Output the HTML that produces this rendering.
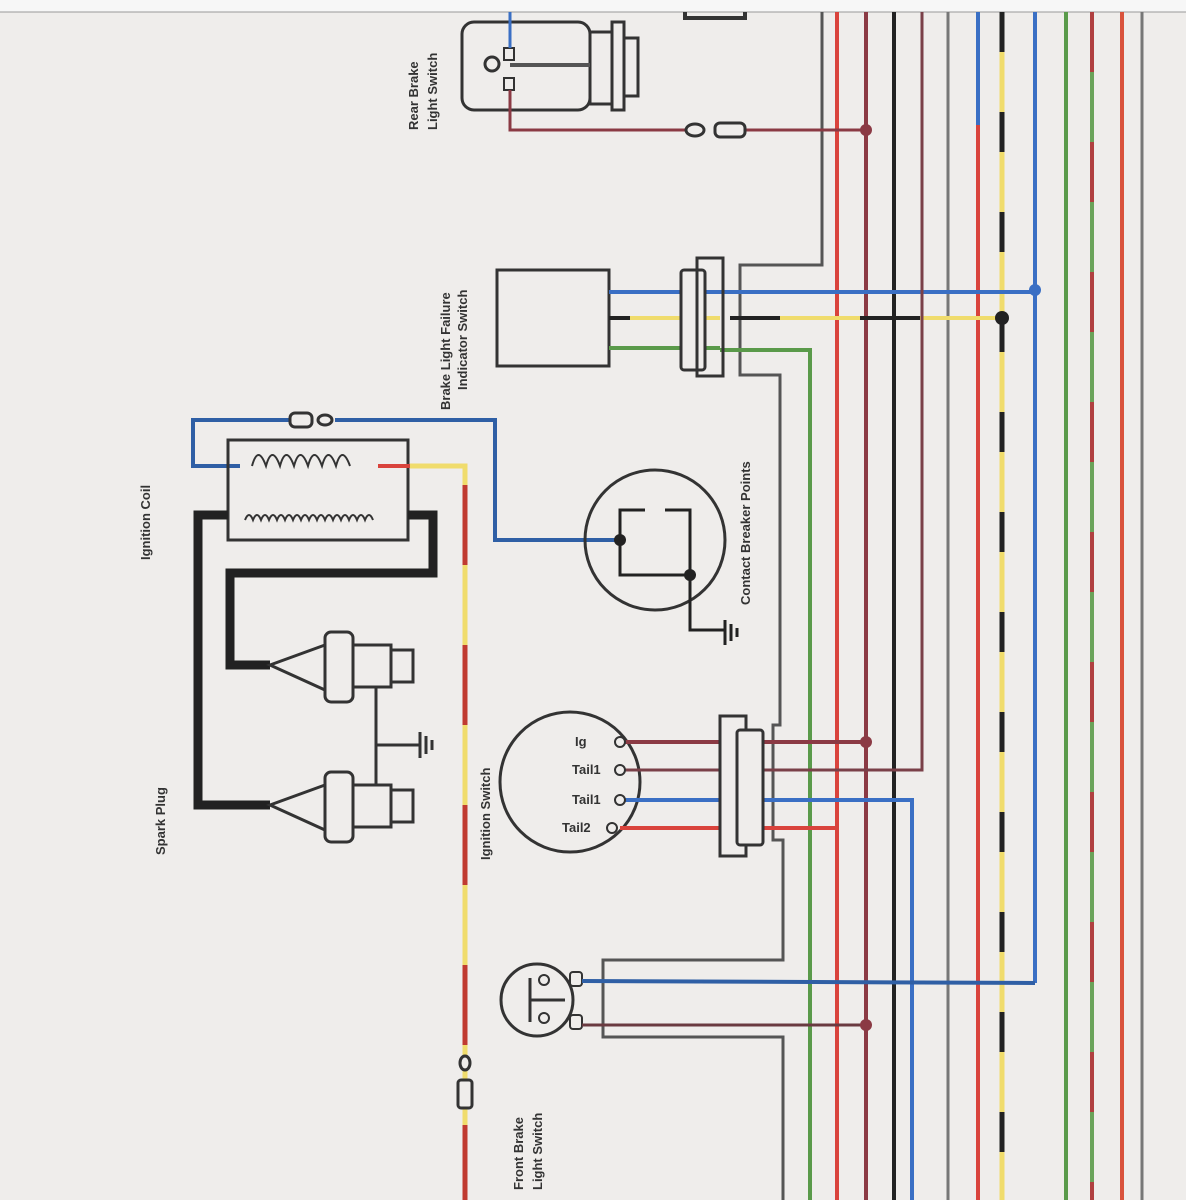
<!DOCTYPE html>
<html><head><meta charset="utf-8"><style>
html,body{margin:0;padding:0;background:#efedeb}
svg{display:block}
text{font-family:"Liberation Sans",sans-serif;font-weight:bold;fill:#333;font-size:13px}
</style></head><body>
<svg width="1186" height="1200" viewBox="0 0 1186 1200" xmlns="http://www.w3.org/2000/svg">
<rect x="0" y="0" width="1186" height="12" fill="#f7f7f7"/>
<rect x="0" y="12" width="1186" height="1188" fill="#efedeb"/>
<line x1="0" y1="12" x2="1186" y2="12" stroke="#999" stroke-width="1"/>

<g fill="none" stroke-linecap="butt">
<!-- right bundle verticals -->
<line x1="837" y1="12" x2="837" y2="1200" stroke="#d9433c" stroke-width="4"/>
<line x1="866" y1="12" x2="866" y2="1200" stroke="#8b3a44" stroke-width="4"/>
<line x1="894" y1="12" x2="894" y2="1200" stroke="#222" stroke-width="4"/>
<line x1="922" y1="12" x2="922" y2="770" stroke="#666" stroke-width="3"/>
<line x1="948" y1="12" x2="948" y2="1200" stroke="#777" stroke-width="3"/>
<line x1="978" y1="12" x2="978" y2="125" stroke="#3a6fc4" stroke-width="4"/>
<line x1="978" y1="125" x2="978" y2="1200" stroke="#d9433c" stroke-width="4"/>
<line x1="1002" y1="12" x2="1002" y2="1200" stroke="#f0dc6c" stroke-width="5"/>
<line x1="1002" y1="12" x2="1002" y2="1200" stroke="#222" stroke-width="5" stroke-dasharray="40 60"/>
<line x1="1035" y1="12" x2="1035" y2="983" stroke="#3a6fc4" stroke-width="4"/>
<line x1="1066" y1="12" x2="1066" y2="1200" stroke="#5a9a4a" stroke-width="4"/>
<line x1="1092" y1="12" x2="1092" y2="1200" stroke="#6aa35a" stroke-width="4"/>
<line x1="1092" y1="12" x2="1092" y2="1200" stroke="#b04040" stroke-width="4" stroke-dasharray="60 70"/>
<line x1="1122" y1="12" x2="1122" y2="1200" stroke="#d9533c" stroke-width="4"/>
<line x1="1142" y1="12" x2="1142" y2="1200" stroke="#777" stroke-width="3"/>

<!-- gray frame wire -->
<path d="M822 12 V265 H740 V375 H780 V725 H773 V840 H783 V960 H603 V1037 H783 V1200" stroke="#555" stroke-width="3"/>

<!-- green -->
<path d="M720 350 H810 V1200" stroke="#5a9a4a" stroke-width="4"/>

<!-- rear brake switch -->
<rect x="462" y="22" width="128" height="88" rx="12" stroke="#333" stroke-width="3"/>
<rect x="590" y="32" width="22" height="72" stroke="#333" stroke-width="3"/>
<rect x="612" y="22" width="12" height="88" stroke="#333" stroke-width="3"/>
<rect x="624" y="38" width="14" height="58" stroke="#333" stroke-width="3"/>
<line x1="510" y1="65" x2="590" y2="65" stroke="#555" stroke-width="4"/>
<circle cx="492" cy="64" r="7" stroke="#333" stroke-width="3"/>
<rect x="504" y="48" width="10" height="12" stroke="#333" stroke-width="2"/>
<rect x="504" y="78" width="10" height="12" stroke="#333" stroke-width="2"/>
<line x1="510" y1="12" x2="510" y2="48" stroke="#3a6fc4" stroke-width="3"/>
<path d="M510 90 V130 H686" stroke="#8b3a44" stroke-width="3"/>
<path d="M745 130 H866" stroke="#8b3a44" stroke-width="3"/>
<ellipse cx="695" cy="130" rx="9" ry="6" stroke="#333" stroke-width="3"/>
<rect x="715" y="123" width="30" height="14" rx="5" stroke="#333" stroke-width="3"/>
<path d="M685 12 V18 H745 V12" stroke="#333" stroke-width="4"/>

<!-- brake light failure -->
<rect x="497" y="270" width="112" height="96" stroke="#333" stroke-width="3"/>
<line x1="609" y1="292" x2="1035" y2="292" stroke="#3a6fc4" stroke-width="4"/>
<line x1="609" y1="318" x2="630" y2="318" stroke="#222" stroke-width="4"/>
<line x1="630" y1="318" x2="720" y2="318" stroke="#f0dc6c" stroke-width="4"/>
<line x1="730" y1="318" x2="780" y2="318" stroke="#222" stroke-width="4"/>
<line x1="780" y1="318" x2="1002" y2="318" stroke="#f0dc6c" stroke-width="4"/>
<line x1="860" y1="318" x2="920" y2="318" stroke="#222" stroke-width="4"/>
<line x1="609" y1="348" x2="720" y2="348" stroke="#5a9a4a" stroke-width="4"/>
<rect x="681" y="270" width="24" height="100" rx="3" fill="#efedeb" stroke="#333" stroke-width="3"/>
<rect x="697" y="258" width="26" height="118" fill="none" stroke="#333" stroke-width="3"/>
<circle cx="1035" cy="290" r="6" fill="#3a6fc4" stroke="none"/>
<circle cx="1002" cy="318" r="7" fill="#222" stroke="none"/>
<circle cx="866" cy="130" r="6" fill="#8b3a44" stroke="none"/>

<!-- ignition coil -->
<path d="M290 420 H193 V466 H240" stroke="#2f5fa5" stroke-width="4"/>
<path d="M335 420 H495 V540 H620" stroke="#2f5fa5" stroke-width="4"/>
<rect x="290" y="413" width="22" height="14" rx="5" fill="#efedeb" stroke="#333" stroke-width="3"/>
<ellipse cx="325" cy="420" rx="7" ry="5" stroke="#333" stroke-width="3"/>
<rect x="228" y="440" width="180" height="100" stroke="#333" stroke-width="3"/>
<path d="M252 466 q6 -22 14 0 q6 -22 14 0 q6 -22 14 0 q6 -22 14 0 q6 -22 14 0 q6 -22 14 0 q6 -22 14 0" stroke="#333" stroke-width="2"/>
<path d="M245 520 q4 -10 8 0 q4 -10 8 0 q4 -10 8 0 q4 -10 8 0 q4 -10 8 0 q4 -10 8 0 q4 -10 8 0 q4 -10 8 0 q4 -10 8 0 q4 -10 8 0 q4 -10 8 0 q4 -10 8 0 q4 -10 8 0 q4 -10 8 0 q4 -10 8 0 q4 -10 8 0" stroke="#333" stroke-width="2"/>
<line x1="378" y1="466" x2="410" y2="466" stroke="#d9433c" stroke-width="4"/>
<path d="M410 466 H465 V485" stroke="#f0dc6c" stroke-width="5"/>
<line x1="465" y1="485" x2="465" y2="1200" stroke="#f0dc6c" stroke-width="5"/>
<line x1="465" y1="485" x2="465" y2="1200" stroke="#c03a30" stroke-width="5" stroke-dasharray="80 80"/>
<ellipse cx="465" cy="1063" rx="5" ry="7" fill="#efedeb" stroke="#333" stroke-width="3"/>
<rect x="458" y="1080" width="14" height="28" rx="3" fill="#efedeb" stroke="#333" stroke-width="3"/>

<!-- HT leads -->
<path d="M228 515 H198 V805 H270" stroke="#222" stroke-width="9"/>
<path d="M408 515 H433 V573 H230 V665 H270" stroke="#222" stroke-width="9"/>

<!-- spark plugs -->
<g stroke="#333" stroke-width="3">
<path d="M270 665 L325 645 V690 Z"/>
<rect x="325" y="632" width="28" height="70" rx="6"/>
<rect x="353" y="645" width="38" height="42"/>
<rect x="391" y="650" width="22" height="32"/>
<path d="M270 805 L325 785 V830 Z"/>
<rect x="325" y="772" width="28" height="70" rx="6"/>
<rect x="353" y="785" width="38" height="42"/>
<rect x="391" y="790" width="22" height="32"/>
<path d="M376 687 V785"/>
<path d="M376 745 H420"/>
<path d="M420 732 V758 M426 736 V754 M432 740 V750"/>
</g>

<!-- contact breaker -->
<circle cx="655" cy="540" r="70" stroke="#333" stroke-width="3"/>
<path d="M620 540 V575 H690 V510 H665 M645 510 H620 V540" stroke="#222" stroke-width="3"/>
<circle cx="620" cy="540" r="6" fill="#222" stroke="none"/>
<circle cx="690" cy="575" r="6" fill="#222" stroke="none"/>
<path d="M690 575 V630 H725 M725 620 V645 M731 624 V641 M737 628 V637" stroke="#222" stroke-width="3"/>

<!-- ignition switch -->
<circle cx="570" cy="782" r="70" stroke="#333" stroke-width="3"/>
<line x1="620" y1="742" x2="866" y2="742" stroke="#8b3a44" stroke-width="4"/>
<path d="M620 770 H922 V12" stroke="#7a4048" stroke-width="3"/>
<path d="M620 800 H912 V1200" stroke="#3a6fc4" stroke-width="4"/>
<path d="M620 828 H837" stroke="#d9433c" stroke-width="4"/>
<circle cx="620" cy="742" r="5" fill="#efedeb" stroke="#333" stroke-width="2"/>
<circle cx="620" cy="770" r="5" fill="#efedeb" stroke="#333" stroke-width="2"/>
<circle cx="620" cy="800" r="5" fill="#efedeb" stroke="#333" stroke-width="2"/>
<circle cx="612" cy="828" r="5" fill="#efedeb" stroke="#333" stroke-width="2"/>
<rect x="720" y="716" width="26" height="140" fill="#efedeb" stroke="#333" stroke-width="3"/>
<rect x="737" y="730" width="26" height="115" rx="3" fill="#efedeb" stroke="#333" stroke-width="3"/>
<circle cx="866" cy="742" r="6" fill="#8b3a44" stroke="none"/>

<!-- front brake switch -->
<circle cx="537" cy="1000" r="36" stroke="#333" stroke-width="3"/>
<path d="M530 978 V1022 M530 1000 H565" stroke="#333" stroke-width="3"/>
<circle cx="544" cy="980" r="5" stroke="#333" stroke-width="2"/>
<circle cx="544" cy="1018" r="5" stroke="#333" stroke-width="2"/>
<rect x="570" y="972" width="12" height="14" rx="3" stroke="#333" stroke-width="2"/>
<rect x="570" y="1015" width="12" height="14" rx="3" stroke="#333" stroke-width="2"/>
<line x1="582" y1="981" x2="1035" y2="983" stroke="#2f5fa5" stroke-width="4"/>
<line x1="582" y1="1025" x2="866" y2="1025" stroke="#6a3a40" stroke-width="3"/>
<circle cx="866" cy="1025" r="6" fill="#8b3a44" stroke="none"/>
</g>

<!-- labels (rotated, reading bottom to top) -->
<text transform="translate(418,130) rotate(-90)">Rear Brake</text>
<text transform="translate(437,130) rotate(-90)">Light Switch</text>
<text transform="translate(450,410) rotate(-90)">Brake Light Failure</text>
<text transform="translate(467,390) rotate(-90)">Indicator Switch</text>
<text transform="translate(150,560) rotate(-90)">Ignition Coil</text>
<text transform="translate(165,855) rotate(-90)">Spark Plug</text>
<text transform="translate(490,860) rotate(-90)">Ignition Switch</text>
<text transform="translate(750,605) rotate(-90)">Contact Breaker Points</text>
<text transform="translate(523,1190) rotate(-90)">Front Brake</text>
<text transform="translate(542,1190) rotate(-90)">Light Switch</text>
<g font-size="9">
<text x="575" y="746" font-size="10">Ig</text>
<text x="572" y="774" font-size="10">Tail1</text>
<text x="572" y="804" font-size="10">Tail1</text>
<text x="562" y="832" font-size="10">Tail2</text>
</g>
</svg>
</body></html>
